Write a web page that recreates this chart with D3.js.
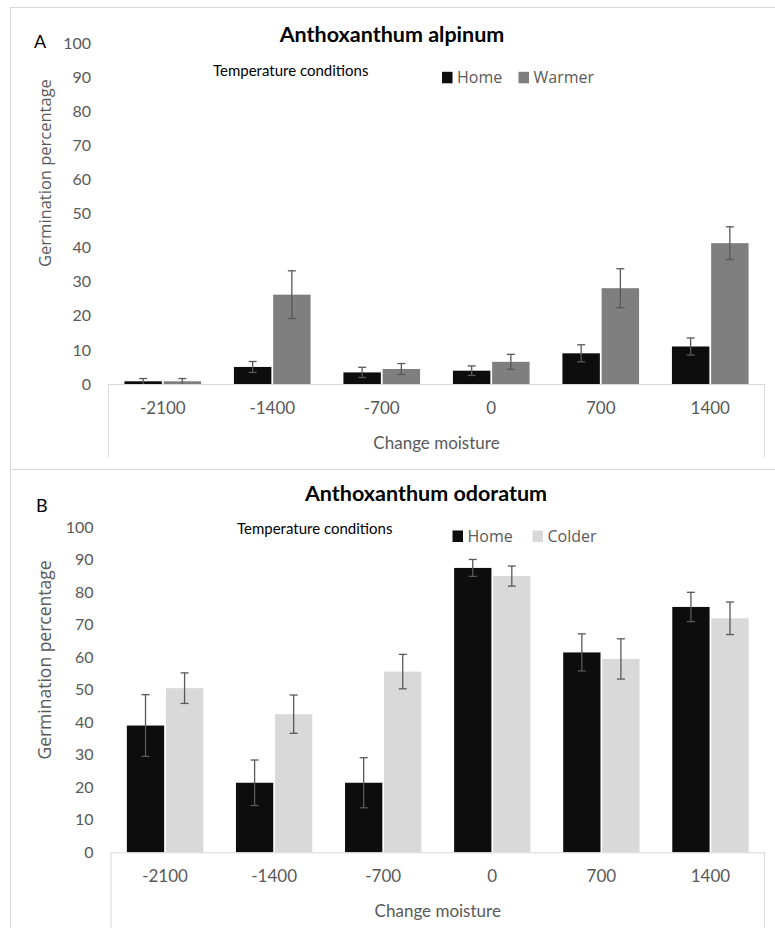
<!DOCTYPE html>
<html>
<head>
<meta charset="utf-8">
<script src="https://cdn.jsdelivr.net/npm/d3@7"></script>
<style>
  body { margin: 0; background: #fff; }
  svg { display: block; }
</style>
</head>
<body>
<svg id="chart" width="775" height="928"></svg>
<script>
// Data
const moisture = ["-2100", "-1400", "-700", "0", "700", "1400"];

const alpinumHome = [0.8, 5.0, 3.4, 3.9, 9.0, 11.0];
const alpinumHomeErr = [0.8, 1.6, 1.5, 1.4, 2.5, 2.5];
const alpinumWarmer = [0.8, 26.2, 4.4, 6.5, 28.1, 41.3];
const alpinumWarmerErr = [0.8, 7.0, 1.6, 2.2, 5.7, 4.8];

const odoratumHome = [39.0, 21.4, 21.4, 87.5, 61.5, 75.5];
const odoratumHomeErr = [9.5, 7.0, 7.7, 2.6, 5.7, 4.5];
const odoratumColder = [50.5, 42.5, 55.6, 85.0, 59.5, 72.0];
const odoratumColderErr = [4.7, 5.9, 5.3, 3.1, 6.2, 5.0];

const yTicks = [0, 10, 20, 30, 40, 50, 60, 70, 80, 90, 100];

const svg = d3.select("#chart");
const tickFont = "Lato, 'Liberation Sans', sans-serif";
const legendFont = "'Open Sans', 'DejaVu Sans', sans-serif";
const grey = "#595959";
const lineGrey = "#d9d9d9";

function drawPanel(p) {
  const g = svg.append("g");

  // panel frame
  g.append("rect")
    .attr("x", 10.5).attr("y", p.frameTop + 0.5)
    .attr("width", 780).attr("height", p.frameBottom - p.frameTop)
    .attr("fill", "none").attr("stroke", lineGrey);

  const x0 = d3.scaleBand(moisture, [p.left, p.right])
    .paddingInner(0.3).paddingOuter(0.15);
  const x1 = d3.scaleBand(p.series.map(s => s.name), [0, x0.bandwidth()])
    .paddingInner(0.045);
  const y = d3.scaleLinear([0, 100], [p.bottom, p.top]);

  // y axis labels
  const yAxis = g.append("g")
    .attr("transform", `translate(${p.left},0)`)
    .call(d3.axisLeft(y).tickValues(yTicks).tickSize(0).tickPadding(17));
  yAxis.select(".domain").remove();
  yAxis.selectAll("text")
    .attr("fill", grey).style("font-family", tickFont).style("font-size", "16px");

  // bars
  p.series.forEach(s => {
    const bars = g.append("g");
    bars.selectAll("rect")
      .data(moisture)
      .join("rect")
      .attr("x", d => x0(d) + x1(s.name))
      .attr("y", (d, i) => y(s.values[i]))
      .attr("width", x1.bandwidth())
      .attr("height", (d, i) => y(0) - y(s.values[i]))
      .attr("fill", s.color);

    const err = g.append("g")
      .attr("stroke", grey).attr("stroke-width", 1.3).attr("fill", "none");
    moisture.forEach((d, i) => {
      const cx = x0(d) + x1(s.name) + x1.bandwidth() / 2;
      const lo = y(Math.max(0, s.values[i] - s.err[i]));
      const hi = y(s.values[i] + s.err[i]);
      err.append("line").attr("x1", cx).attr("x2", cx).attr("y1", lo).attr("y2", hi);
      err.append("line").attr("x1", cx - 4).attr("x2", cx + 4).attr("y1", hi).attr("y2", hi);
      if (s.values[i] - s.err[i] > 0) {
        err.append("line").attr("x1", cx - 4).attr("x2", cx + 4).attr("y1", lo).attr("y2", lo);
      }
    });
  });

  // category axis box
  const ax = g.append("g").attr("stroke", lineGrey).attr("stroke-width", 1);
  ax.append("line").attr("x1", p.left).attr("x2", p.right).attr("y1", p.bottom + 0.5).attr("y2", p.bottom + 0.5);
  ax.append("line").attr("x1", p.left + 0.5).attr("x2", p.left + 0.5).attr("y1", p.bottom).attr("y2", p.boxBottom);
  ax.append("line").attr("x1", p.right - 0.5).attr("x2", p.right - 0.5).attr("y1", p.bottom).attr("y2", p.boxBottom);

  const xAxis = g.append("g")
    .attr("transform", `translate(0,${p.bottom})`)
    .call(d3.axisBottom(x0).tickSize(0).tickPadding(p.xTickPad));
  xAxis.select(".domain").remove();
  xAxis.selectAll("text")
    .attr("fill", grey).style("font-family", tickFont).style("font-size", "17px");

  g.append("text")
    .attr("x", (p.left + p.right) / 2).attr("y", p.xTitleY)
    .attr("text-anchor", "middle")
    .attr("fill", grey).style("font-family", tickFont).style("font-size", "17px")
    .text("Change moisture");

  // y title
  g.append("text")
    .attr("transform", `translate(${p.yTitleX},${p.yTitleY}) rotate(-90)`)
    .attr("text-anchor", "middle")
    .attr("fill", grey).style("font-family", legendFont).style("font-size", p.yTitleSize + "px")
    .text("Germination percentage");

  // panel letter and title
  g.append("text")
    .attr("x", p.letterX).attr("y", p.letterY)
    .attr("fill", "#000").style("font-family", tickFont).style("font-size", "18px")
    .text(p.letter);

  g.append("text")
    .attr("x", p.titleX).attr("y", p.titleY)
    .attr("text-anchor", "middle")
    .attr("fill", "#000").style("font-family", tickFont).style("font-weight", "bold")
    .style("font-size", p.titleSize + "px")
    .text(p.title);

  // legend
  g.append("text")
    .attr("x", p.legendTitleX).attr("y", p.legendTitleY)
    .attr("fill", "#000").style("font-family", tickFont).style("font-size", "15px")
    .text("Temperature conditions");

  p.series.forEach((s, i) => {
    const lx = p.legendX[i];
    g.append("rect")
      .attr("x", lx).attr("y", p.legendY - 11.5)
      .attr("width", 10.5).attr("height", 11.5)
      .attr("fill", s.color);
    g.append("text")
      .attr("x", lx + 15).attr("y", p.legendY)
      .attr("fill", grey).style("font-family", legendFont).style("font-size", "16px")
      .text(s.name);
  });
}

drawPanel({
  letter: "A", title: "Anthoxanthum alpinum",
  frameTop: 7, frameBottom: 469,
  left: 108, right: 765, top: 43, bottom: 384, boxBottom: 457,
  xTickPad: 18, xTitleY: 449,
  yTitleX: 51, yTitleY: 173, yTitleSize: 16.5,
  letterX: 34, letterY: 48,
  titleX: 392, titleY: 42, titleSize: 21.5,
  legendTitleX: 213, legendTitleY: 76,
  legendX: [442, 518.5], legendY: 83.3,
  series: [
    { name: "Home", values: alpinumHome, err: alpinumHomeErr, color: "#0d0d0d" },
    { name: "Warmer", values: alpinumWarmer, err: alpinumWarmerErr, color: "#7f7f7f" }
  ]
});

drawPanel({
  letter: "B", title: "Anthoxanthum odoratum",
  frameTop: 469, frameBottom: 940,
  left: 110.5, right: 765, top: 527.3, bottom: 852.3, boxBottom: 930,
  xTickPad: 18, xTitleY: 917,
  yTitleX: 51, yTitleY: 660, yTitleSize: 17.5,
  letterX: 36, letterY: 512,
  titleX: 426, titleY: 501, titleSize: 21.5,
  legendTitleX: 237, legendTitleY: 534,
  legendX: [452.5, 532.5], legendY: 542,
  series: [
    { name: "Home", values: odoratumHome, err: odoratumHomeErr, color: "#0d0d0d" },
    { name: "Colder", values: odoratumColder, err: odoratumColderErr, color: "#d9d9d9" }
  ]
});
</script>
</body>
</html>
